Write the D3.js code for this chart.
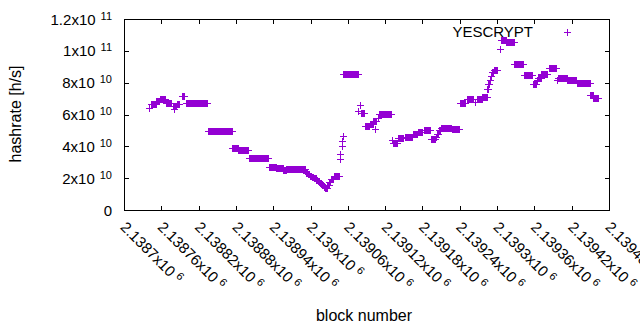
<!DOCTYPE html>
<html><head><meta charset="utf-8">
<script src="https://cdn.jsdelivr.net/npm/d3@7"></script>
<style>
body{margin:0;background:#fff}
svg{display:block}
text{font-family:"Liberation Sans",Arial,sans-serif;fill:#000}
</style>
</head><body>
<svg id="chart" width="640" height="330"></svg>
<script>
// ---- data ----
const seriesName = "YESCRYPT";
// runs of consecutive blocks that share one hashrate value (single points have start == end)
const runStart = [2138741,2138744,2138752,2138758,2138768,2138778,2138781,2138782,2138786,2138793,2138800,
  2138835,2138874,2138884,2138901,2138933,2138945,2138956,2138961,
  2138992,2138996,2138999,2139002,2139005,2139009,2139012,2139015,2139018,2139021,2139024,
  2139027,2139030,2139033,2139037,2139047,2139048,2139050,2139051,2139052,2139053,
  2139077,2139079,2139081,2139087,2139095,2139101,2139104,2139108,2139110,
  2139131,2139133,2139141,2139152,2139164,2139173,2139182,2139194,2139201,2139203,2139206,2139210,2139227,
  2139241,2139251,2139264,2139267,2139276,2139284,2139286,2139288,2139290,2139292,2139295,
  2139304,2139306,2139315,2139328,2139343,2139357,2139364,2139366,2139371,2139383,2139397,2139398,2139413,2139428,2139450,2139455];
const runEnd = [2138741,2138751,2138757,2138766,2138776,2138780,2138781,2138784,2138789,2138797,2138834,
  2138873,2138883,2138899,2138932,2138944,2138955,2138960,2138991,
  2138995,2138998,2139001,2139004,2139008,2139011,2139014,2139017,2139020,2139023,2139026,
  2139029,2139032,2139036,2139045,2139047,2139048,2139050,2139051,2139052,2139076,
  2139077,2139079,2139086,2139094,2139100,2139106,2139104,2139108,2139129,
  2139131,2139139,2139149,2139163,2139171,2139180,2139192,2139200,2139202,2139205,2139208,2139226,2139239,
  2139249,2139262,2139264,2139275,2139283,2139285,2139287,2139289,2139291,2139294,2139300,
  2139304,2139314,2139327,2139342,2139356,2139363,2139364,2139370,2139380,2139395,2139397,2139412,2139427,2139449,2139454,2139462];
const runHashrate = [6.40e10,6.67e10,6.83e10,6.97e10,6.71e10,6.53e10,6.33e10,6.53e10,6.67e10,7.16e10,6.72e10,
  4.98e10,3.90e10,3.75e10,3.27e10,2.71e10,2.62e10,2.52e10,2.58e10,
  2.35e10,2.26e10,2.16e10,2.10e10,2.01e10,1.91e10,1.82e10,1.72e10,1.60e10,1.47e10,1.38e10,
  1.60e10,1.79e10,1.97e10,2.13e10,3.21e10,3.52e10,4.01e10,4.31e10,4.62e10,8.53e10,
  6.20e10,6.57e10,6.09e10,5.28e10,5.42e10,5.58e10,5.11e10,5.77e10,6.03e10,
  4.42e10,4.23e10,4.51e10,4.61e10,4.79e10,4.92e10,5.00e10,4.45e10,4.61e10,4.79e10,5.01e10,5.15e10,5.08e10,
  6.72e10,6.97e10,6.80e10,6.99e10,7.13e10,7.58e10,7.93e10,8.15e10,8.43e10,8.65e10,8.77e10,
  10.09e10,10.70e10,10.53e10,9.18e10,8.49e10,7.93e10,8.18e10,8.27e10,8.52e10,8.91e10,8.15e10,8.27e10,8.16e10,7.97e10,7.25e10,7.02e10];

const xTickValues = [2138700,2138760,2138820,2138880,2138940,2139000,2139060,2139120,2139180,2139240,2139300,2139360,2139420,2139480];
const xTickMantissa = ["2.1387","2.13876","2.13882","2.13888","2.13894","2.139","2.13906","2.13912","2.13918","2.13924","2.1393","2.13936","2.13942","2.13948"];
const xTickExponent = "6";
const yTickValues = [0,2e10,4e10,6e10,8e10,1e11,1.2e11];
const yTickMantissa = ["0","2x10","4x10","6x10","8x10","1x10","1.2x10"];
const yTickExponent = ["","10","10","10","10","11","11"];
const xTitle = "block number";
const yTitle = "hashrate [h/s]";

// ---- drawing ----
const color = "#9400d3";
const L = 124.5, R = 609.5, T = 19.5, B = 210.5;
const svg = d3.select("#chart");
const x = d3.scaleLinear().domain([2138700, 2139480]).range([L, R]);
const y = d3.scaleLinear().domain([0, 1.2e11]).range([B, T]);
const FS = 15, EXP = 11, TICK = 4.5;

// ticks (inward, mirrored)
const ax = svg.append("g").attr("stroke", "#000").attr("stroke-width", 1).attr("shape-rendering", "crispEdges");
xTickValues.forEach(v => {
  ax.append("line").attr("x1", x(v)).attr("x2", x(v)).attr("y1", B).attr("y2", B - TICK);
  ax.append("line").attr("x1", x(v)).attr("x2", x(v)).attr("y1", T).attr("y2", T + TICK);
});
yTickValues.forEach(v => {
  ax.append("line").attr("y1", y(v)).attr("y2", y(v)).attr("x1", L).attr("x2", L + TICK);
  ax.append("line").attr("y1", y(v)).attr("y2", y(v)).attr("x1", R).attr("x2", R - TICK);
});
ax.append("rect").attr("x", L).attr("y", T).attr("width", R - L).attr("height", B - T).attr("fill", "none");

// y tick labels
yTickValues.forEach((v, i) => {
  const t = svg.append("text").attr("x", 112).attr("y", y(v) + 5).attr("text-anchor", "end").attr("font-size", FS);
  t.append("tspan").text(yTickMantissa[i]);
  if (yTickExponent[i]) t.append("tspan").attr("dx", 5).attr("dy", -5).attr("font-size", EXP).text(yTickExponent[i]);
});

// x tick labels (rotated)
xTickValues.forEach((v, i) => {
  const t = svg.append("text").attr("transform", `translate(${x(v) - 5},228) rotate(45)`)
    .attr("text-anchor", "start").attr("font-size", FS);
  t.append("tspan").text(xTickMantissa[i] + "x10");
  t.append("tspan").attr("dx", 4).attr("dy", -5).attr("font-size", EXP).text(xTickExponent);
});

// axis titles
svg.append("text").attr("transform", "translate(21,114) rotate(-90)").attr("text-anchor", "middle").attr("font-size", 16).text(yTitle);
svg.append("text").attr("x", 364).attr("y", 321).attr("text-anchor", "middle").attr("font-size", 16).text(xTitle);

// data: '+' markers, consecutive blocks merge into bars
const runs = runStart.map((s, i) => ({s, e: runEnd[i], v: runHashrate[i]}));
const pts = svg.append("g").attr("fill", color).attr("shape-rendering", "crispEdges");
const g = pts.selectAll("g").data(runs).join("g");
g.append("rect").attr("x", d => x(d.s) - 0.5).attr("width", d => x(d.e) - x(d.s) + 1)
  .attr("y", d => y(d.v) - 3.5).attr("height", 7);
g.append("rect").attr("x", d => x(d.s) - 3.5).attr("width", d => x(d.e) - x(d.s) + 7)
  .attr("y", d => y(d.v) - 0.5).attr("height", 1);

// legend
svg.append("text").attr("x", 533).attr("y", 37).attr("text-anchor", "end").attr("font-size", FS).text(seriesName);
const lg = svg.append("g").attr("fill", color).attr("shape-rendering", "crispEdges");
lg.append("rect").attr("x", 567).attr("y", 29).attr("width", 1).attr("height", 7);
lg.append("rect").attr("x", 564).attr("y", 32).attr("width", 7).attr("height", 1);
</script>
</body></html>
